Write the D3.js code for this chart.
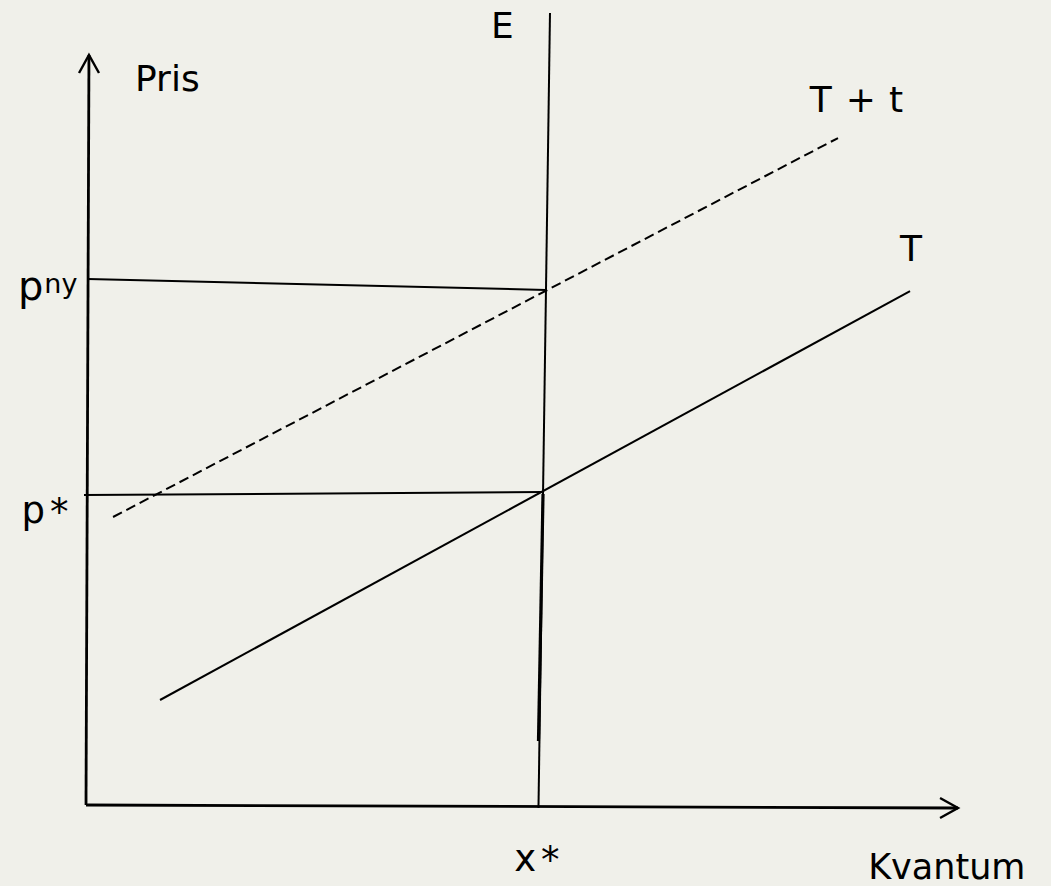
<!DOCTYPE html>
<html>
<head>
<meta charset="utf-8">
<script src="https://cdn.jsdelivr.net/npm/d3@7"></script>
<style>
  html, body { margin: 0; padding: 0; background: #f0f0ea; }
  svg { display: block; }
  text { font-family: "DejaVu Sans", Verdana, sans-serif; fill: #000; }
</style>
</head>
<body>
<svg id="chart" width="1051" height="886"></svg>
<script>
// Data in (quantity, price) units, quantity 0..100, price 0..100
const yAxisLine   = [[0, 0], [0.34, 100]];
const xAxisLine   = [[0, 0], [100, -0.4]];
const yArrowHead  = [[-0.80, 97.6], [0.34, 100], [1.49, 97.6]];
const xArrowHead  = [[97.94, 0.93], [100, -0.4], [97.94, -1.73]];
const demandE     = [[53.21, 105.6], [51.89, -0.4]];
const demandThick = [[52.41, 41.47], [51.89, 8.53]];
const supplyT     = [[8.49, 14.0], [94.50, 68.53]];
const supplyTt    = [[3.10, 38.4], [86.24, 88.93]];
const pStarLine   = [[-0.23, 41.33], [52.29, 41.73]];
const pNyLine     = [[0.23, 70.13], [52.75, 68.67]];

// Labels anchored in data units
const labels = [
  { parts: ["Pris"],          q: 5.62,  p: 95.2 },
  { parts: ["E"],             q: 46.45, p: 102.3 },
  { parts: ["T", "+", "t"],   q: 83.0,  p: 92.4 },
  { parts: ["T"],             q: 93.35, p: 72.5 },
  { parts: ["Kvantum"],       q: 89.7,  p: -9.8 }
];
const labelGaps = [0, 14, 13];
const starLabels = [
  { base: "p", sup: "ny", q: -7.8, p: 67.33 },
  { base: "p", sup: "*",  q: -7.4, p: 37.6 },
  { base: "x", sup: "*",  q: 49.1, p: -8.8 }
];

const svg = d3.select("#chart");
const x = d3.scaleLinear().domain([0, 100]).range([86, 958]);
const y = d3.scaleLinear().domain([0, 100]).range([805, 55]);
const line = d3.line().x(d => x(d[0])).y(d => y(d[1]));

function draw(data, width, dash) {
  const pth = svg.append("path")
    .attr("d", line(data))
    .attr("fill", "none")
    .attr("stroke", "#000")
    .attr("stroke-width", width)
    .attr("stroke-linecap", "butt")
    .attr("stroke-linejoin", "miter");
  if (dash) pth.attr("stroke-dasharray", dash);
}

draw(pNyLine, 2);
draw(pStarLine, 2);
draw(supplyTt, 2, "10,5");
draw(supplyT, 2);
draw(demandE, 2);
draw(demandThick, 3.2);
draw(yAxisLine, 2.8);
draw(xAxisLine, 2.8);
draw(yArrowHead, 2.4);
draw(xArrowHead, 2.4);

labels.forEach(l => {
  const t = svg.append("text")
    .attr("x", x(l.q))
    .attr("y", y(l.p))
    .attr("font-size", l.parts[0] === "Kvantum" ? 35 : 36);
  l.parts.forEach((s, i) => {
    t.append("tspan").attr("dx", labelGaps[i]).text(s);
  });
});

starLabels.forEach(l => {
  const t = svg.append("text")
    .attr("x", x(l.q))
    .attr("y", y(l.p))
    .attr("font-size", l.sup === "ny" ? 40 : 37);
  t.append("tspan").text(l.base);
  if (l.sup === "ny") {
    t.append("tspan").attr("font-size", 27).attr("dy", -7).attr("dx", 1).text(l.sup);
  } else {
    t.append("tspan").attr("dy", 2).attr("dx", 5).text(l.sup);
  }
});
</script>
</body>
</html>
